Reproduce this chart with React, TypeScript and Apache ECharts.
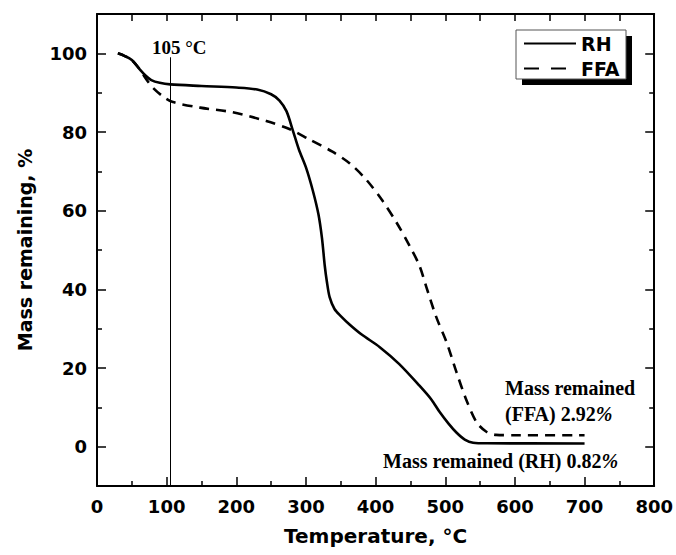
import React, { useEffect, useRef } from "react";
import * as echarts from "echarts";

const seriesNames = ["RH", "FFA"];

const rhData: [number, number][] = [
  [30, 100], [40, 99.3], [50, 98.3], [62, 95.8], [70, 94.3], [78, 93.2], [90, 92.5],
  [105, 92.1], [150, 91.7], [200, 91.3], [230, 90.8], [250, 89.6], [262, 88],
  [272, 85.3], [281, 80.5], [290, 75.5], [300, 71], [310, 65], [318, 59], [323, 53],
  [327, 46], [330, 42], [334, 38], [341, 35], [350, 33.2], [363, 31], [380, 28.5],
  [406, 25.3], [434, 21], [463, 15.5], [480, 12], [492, 8.8], [505, 5.8], [516, 3.6],
  [528, 1.8], [540, 1.0], [560, 0.85], [700, 0.82],
];

const ffaData: [number, number][] = [
  [30, 100], [40, 99.3], [50, 98.3], [62, 95.8], [70, 93.6], [80, 91.3], [95, 89],
  [109, 87.6], [148, 86.2], [195, 85], [243, 82.8], [277, 80.7], [305, 78.1],
  [338, 75], [363, 72], [387, 67.8], [410, 62.5], [430, 57], [449, 51], [463, 46],
  [473, 40.5], [487, 33], [502, 26.5], [516, 19], [530, 12], [545, 6.2], [559, 3.8],
  [573, 3.0], [600, 2.92], [700, 2.92],
];

const xMin = 0;
const xMax = 800;
const xInterval = 100;
const yMin = -10;
const yMax = 110;
const yMajorTicks = [0, 20, 40, 60, 80, 100];
const yMinorTicks = [10, 30, 50, 70, 90];
const refTemp = 105;
const refLineTop = 99;

const xTitle = "Temperature, °C";
const yTitle = "Mass remaining, %";

const SANS = "DejaVu Sans";
const SERIF = "Liberation Serif";

export default function App() {
  const ref = useRef<HTMLDivElement>(null);

  useEffect(() => {
    if (!ref.current) return;
    const chart = echarts.init(ref.current, undefined, { renderer: "svg" });

    const axisLine = { show: true, onZero: false, lineStyle: { color: "#000", width: 2 } };
    const noLine = { show: false, onZero: false };
    const tickStyle = { color: "#000", width: 1.5 };
    const labelStyle = {
      fontFamily: SANS,
      fontWeight: "bold" as const,
      fontSize: 18,
      color: "#000",
    };

    const baseX = {
      type: "value" as const,
      min: xMin,
      max: xMax,
      interval: xInterval,
      splitLine: { show: false },
      axisLine,
    };

    const baseY = {
      type: "value" as const,
      min: yMin,
      max: yMax,
      splitLine: { show: false },
    };

    const option: any = {
      animation: false,
      backgroundColor: "#fff",
      grid: { left: 97, right: 21, top: 14, bottom: 69, containLabel: false },
      legend: {
        data: [
          { name: seriesNames[0] },
          { name: seriesNames[1], lineStyle: { type: [15, 12] } },
        ],
        orient: "vertical",
        left: 523,
        top: 34,
        padding: 0,
        itemWidth: 52,
        itemHeight: 14,
        itemGap: 6,
        itemStyle: { opacity: 0, borderWidth: 0 },
        textStyle: { fontFamily: SANS, fontWeight: "bold", fontSize: 19, color: "#000" },
      },
      xAxis: [
        {
          ...baseX,
          position: "bottom",
          axisTick: { show: true, inside: true, length: 9, lineStyle: tickStyle },
          minorTick: { show: true, splitNumber: 2, length: 5, lineStyle: tickStyle },
          axisLabel: { ...labelStyle, margin: 11 },
          name: xTitle,
          nameLocation: "middle",
          nameGap: 40,
          nameTextStyle: { fontFamily: SANS, fontWeight: "bold", fontSize: 20, color: "#000" },
        },
        {
          ...baseX,
          position: "top",
          axisTick: { show: true, inside: true, length: 7, lineStyle: tickStyle },
          minorTick: { show: true, splitNumber: 2, length: 7, lineStyle: tickStyle },
          axisLabel: { show: false },
        },
      ],
      yAxis: [
        {
          ...baseY,
          position: "left",
          axisLine,
          axisTick: {
            show: true,
            inside: true,
            length: 9,
            lineStyle: tickStyle,
            customValues: yMajorTicks,
          },
          axisLabel: { ...labelStyle, margin: 10, customValues: yMajorTicks },
          name: yTitle,
          nameLocation: "middle",
          nameGap: 63,
          nameTextStyle: { fontFamily: SANS, fontWeight: "bold", fontSize: 19, color: "#000" },
        },
        {
          ...baseY,
          position: "left",
          axisLine: noLine,
          axisTick: {
            show: true,
            inside: true,
            length: 5,
            lineStyle: tickStyle,
            customValues: yMinorTicks,
          },
          axisLabel: { show: false },
        },
        {
          ...baseY,
          position: "right",
          axisLine,
          axisTick: {
            show: true,
            inside: true,
            length: 9,
            lineStyle: tickStyle,
            customValues: yMajorTicks,
          },
          axisLabel: { show: false },
        },
        {
          ...baseY,
          position: "right",
          axisLine: noLine,
          axisTick: {
            show: true,
            inside: true,
            length: 5,
            lineStyle: tickStyle,
            customValues: yMinorTicks,
          },
          axisLabel: { show: false },
        },
      ],
      graphic: [
        {
          type: "rect",
          shape: { x: 522, y: 36, width: 110, height: 49 },
          style: { fill: "#000" },
          z: 1,
        },
        {
          type: "rect",
          shape: { x: 516, y: 30, width: 110, height: 49 },
          style: { fill: "#fff", stroke: "#555", lineWidth: 1 },
          z: 2,
        },
        {
          type: "text",
          x: 152,
          y: 47,
          style: {
            text: "105 °C",
            font: `bold 19px "${SERIF}"`,
            fill: "#000",
            verticalAlign: "middle",
          },
          z: 5,
        },
        {
          type: "text",
          x: 505,
          y: 388,
          style: {
            text: "Mass remained",
            font: `bold 20px "${SERIF}"`,
            fill: "#000",
            verticalAlign: "middle",
          },
          z: 5,
        },
        {
          type: "text",
          x: 505,
          y: 414,
          style: {
            text: "(FFA) 2.92{i|%}",
            font: `bold 20px "${SERIF}"`,
            fill: "#000",
            verticalAlign: "middle",
            rich: { i: { fontStyle: "italic", fontWeight: "bold", fontSize: 20, fontFamily: SERIF } },
          },
          z: 5,
        },
        {
          type: "text",
          x: 383,
          y: 461,
          style: {
            text: "Mass remained (RH) 0.82{i|%}",
            font: `bold 20px "${SERIF}"`,
            fill: "#000",
            verticalAlign: "middle",
            rich: { i: { fontStyle: "italic", fontWeight: "bold", fontSize: 20, fontFamily: SERIF } },
          },
          z: 5,
        },
      ],
      series: [
        {
          name: seriesNames[0],
          type: "line",
          data: rhData,
          xAxisIndex: 0,
          yAxisIndex: 0,
          symbol: "none",
          showSymbol: false,
          smooth: 0.3,
          lineStyle: { color: "#000", width: 2.6, type: "solid" },
          itemStyle: { color: "#000" },
          z: 3,
          markLine: {
            silent: true,
            symbol: ["none", "none"],
            label: { show: false },
            lineStyle: { color: "#000", width: 1, type: "solid" },
            data: [[{ coord: [refTemp, refLineTop] }, { coord: [refTemp, yMin] }]],
          },
        },
        {
          name: seriesNames[1],
          type: "line",
          data: ffaData,
          xAxisIndex: 0,
          yAxisIndex: 0,
          symbol: "none",
          showSymbol: false,
          smooth: 0.3,
          lineStyle: { color: "#000", width: 2.6, type: [10, 7] },
          itemStyle: { color: "#000" },
          z: 3,
        },
      ],
    };

    chart.setOption(option);
    return () => chart.dispose();
  }, []);

  return (
    <div
      ref={ref}
      style={{ position: "fixed", left: 0, top: 0, width: 676, height: 555, background: "#fff" }}
    />
  );
}
